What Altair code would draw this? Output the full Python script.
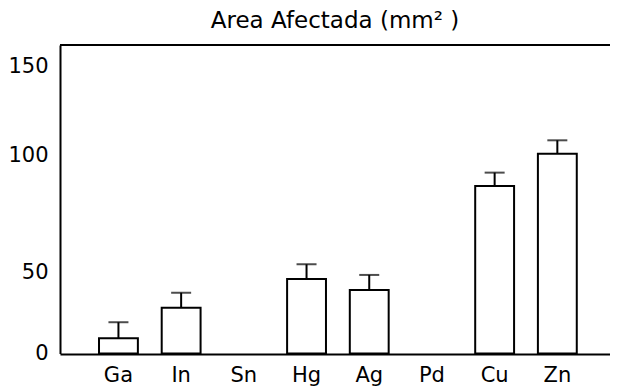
import altair as alt
import pandas as pd

# Values
categories = ["Ga", "In", "Sn", "Hg", "Ag", "Pd", "Cu", "Zn"]
means = [9.4, 28.3, 0, 46.0, 39.2, 0, 86.8, 100.7]
errors = [9.9, 9.2, 0, 7.5, 9.3, 0, 5.7, 7.6]
y_ticks = [0, 50, 100, 150]

df = pd.DataFrame({"metal": categories, "area": means, "err": errors})

W, H = 550, 309
FONT = "DejaVu Sans"

# the printed axis is not evenly spaced; a piecewise scale follows its labels
y_scale = alt.Scale(domain=[0, 50, 100, 150, 162],
                    range=[308.5, 227.5, 110, 21.5, 0],
                    nice=False, zero=False)
x_scale = alt.Scale(domain=categories, paddingInner=0.38,
                    paddingOuter=0.576, align=0.54)

x_axis = alt.Axis(title=None, labelAngle=0, ticks=False, domainColor="black",
                  domainWidth=2, labelFontSize=21, labelPadding=10,
                  labelColor="black", labelFont=FONT, grid=False)
y_axis = alt.Axis(title=None, values=y_ticks, ticks=False, domainColor="black",
                  domainWidth=2, labelFontSize=21, labelPadding=12,
                  labelColor="black", labelFont=FONT, grid=False)

base = alt.Chart(df)

bars = base.transform_filter("datum.area > 0").mark_bar(
    fill="white", stroke="black", strokeWidth=2).encode(
    x=alt.X("metal:N", scale=x_scale, axis=x_axis),
    y=alt.Y("area:Q", scale=y_scale, axis=y_axis),
)

err = base.transform_filter("datum.err > 0").transform_calculate(
    upper="datum.area + datum.err")

rules = err.mark_rule(color="black", strokeWidth=2).encode(
    x=alt.X("metal:N", scale=x_scale),
    y=alt.Y("area:Q", scale=y_scale),
    y2="upper:Q",
)

caps = err.mark_tick(color="black", thickness=2, size=20).encode(
    x=alt.X("metal:N", scale=x_scale),
    y=alt.Y("upper:Q", scale=y_scale),
)

top = base.mark_rule(color="black", strokeWidth=2).encode(
    x=alt.value(0), x2=alt.value(W), y=alt.value(0)
)

chart = alt.layer(bars, rules, caps, top).properties(
    width=W,
    height=H,
    autosize=alt.AutoSizeParams(type="none"),
    padding={"left": 52, "top": 37, "right": 0, "bottom": 36},
    title=alt.TitleParams("Area Afectada (mm² )", fontSize=23, font=FONT,
                          fontWeight="normal", color="black", anchor="middle",
                          frame="group", dy=-7),
).configure_view(stroke=None).configure(background="white")

chart.save("out.html", embed_options={"renderer": "svg", "actions": False})
